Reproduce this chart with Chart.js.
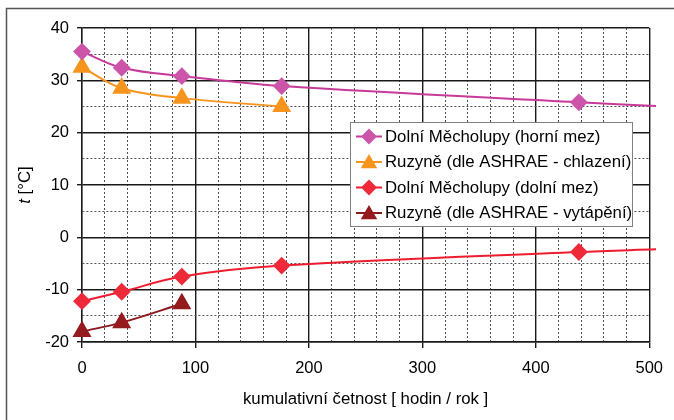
<!DOCTYPE html>
<html>
<head>
<meta charset="utf-8">
<script src="https://cdn.jsdelivr.net/npm/chart.js@4.4.0/dist/chart.umd.min.js"></script>
<style>
  html, body { margin: 0; padding: 0; background: #fff; }
  #wrap { width: 674px; height: 420px; position: relative; }
</style>
</head>
<body>
<div id="wrap"><canvas id="chart" width="674" height="420"></canvas></div>
<script>
// ================= DATA =================
const hoursMecholupy = [0, 35, 88, 176, 438, 506];
const upperMecholupy = [35.5, 32.4, 30.8, 28.9, 25.8, 25.1];
const lowerMecholupy = [-12.2, -10.4, -7.5, -5.4, -2.8, -2.3];
const hoursRuzyneCool = [0, 35, 88, 176];
const coolingRuzyne = [32.5, 28.5, 26.6, 25.0];
const hoursRuzyneHeat = [0, 35, 88];
const heatingRuzyne = [-18.0, -16.3, -12.7];

const seriesNames = [
  "Dolní Měcholupy (horní mez)",
  "Ruzyně (dle ASHRAE - chlazení)",
  "Dolní Měcholupy (dolní mez)",
  "Ruzyně (dle ASHRAE - vytápění)"
];

const FONT = "'Liberation Sans', Arial, sans-serif";
const TEXT_SIZE = 16.8;
const TICK_SIZE = 16.5;

function toPoints(xs, ys) {
  return xs.map((x, i) => ({ x: x, y: ys[i] }));
}

// marker on every point except the extra end point past 500
function markerSizes(xs, r) {
  return xs.map(x => (x > 500 ? 0 : r));
}

// ================= PLUGINS =================
const framePlugin = {
  id: "frame",
  beforeDraw(chart) {
    const ctx = chart.ctx;
    ctx.save();
    ctx.strokeStyle = "#555";
    ctx.lineWidth = 1.5;
    ctx.beginPath();
    ctx.moveTo(6.5, 420);
    ctx.lineTo(6.5, 8.5);
    ctx.lineTo(674, 8.5);
    ctx.stroke();
    ctx.restore();
  }
};

const yTitlePlugin = {
  id: "yTitle",
  afterDraw(chart) {
    const ctx = chart.ctx;
    const area = chart.chartArea;
    ctx.save();
    ctx.translate(25, (area.top + area.bottom) / 2);
    ctx.rotate(-Math.PI / 2);
    ctx.fillStyle = "#000";
    ctx.textBaseline = "middle";
    const italic = "italic " + TEXT_SIZE + "px " + FONT;
    const normal = TEXT_SIZE + "px " + FONT;
    ctx.font = italic;
    const w1 = ctx.measureText("t").width;
    ctx.font = normal;
    const w2 = ctx.measureText(" [°C]").width;
    let x = -(w1 + w2) / 2;
    ctx.font = italic;
    ctx.fillText("t", x, 0);
    ctx.font = normal;
    ctx.fillText(" [°C]", x + w1, 0);
    ctx.restore();
  }
};

const legendBoxPlugin = {
  id: "legendBox",
  afterDraw(chart) {
    const ctx = chart.ctx;
    const box = { left: 350.5, top: 122.5, width: 282, height: 104 };
    ctx.save();
    ctx.fillStyle = "#fff";
    ctx.fillRect(box.left, box.top, box.width, box.height);
    ctx.strokeStyle = "#808080";
    ctx.lineWidth = 1;
    ctx.strokeRect(box.left, box.top, box.width, box.height);
    ctx.font = TEXT_SIZE + "px " + FONT;
    ctx.textBaseline = "middle";
    chart.data.datasets.forEach((ds, i) => {
      const y = box.top + 14 + i * 25.5;
      ctx.strokeStyle = ds.borderColor;
      ctx.lineWidth = 2;
      ctx.beginPath();
      ctx.moveTo(356, y);
      ctx.lineTo(382, y);
      ctx.stroke();
      ctx.fillStyle = ds.pointBackgroundColor;
      ctx.strokeStyle = ds.pointBackgroundColor;
      Chart.helpers.drawPoint(ctx, {
        pointStyle: ds.pointStyle,
        radius: ds.pointStyle === "triangle" ? 7.5 : 6.5,
        rotation: 0,
        borderWidth: 1
      }, 369, ds.pointStyle === "triangle" ? y + 1.5 : y);
      ctx.fillStyle = "#000";
      ctx.fillText(ds.label, 385, y + 0.5);
    });
    ctx.restore();
  }
};

// ================= CHART =================
function makeSet(label, xs, ys, line, fill, style, r) {
  return {
    label: label,
    data: toPoints(xs, ys),
    borderColor: line,
    backgroundColor: fill,
    pointBackgroundColor: fill,
    pointBorderColor: fill,
    pointStyle: style,
    pointRadius: markerSizes(xs, r),
    pointHoverRadius: markerSizes(xs, r),
    borderWidth: 2,
    tension: 0.35,
    clip: false
  };
}

const isMajor = ctx => ctx.tick && ctx.tick.value % ctx.scale.options.majorStep === 0;
const gridColor = ctx => (isMajor(ctx) ? "#1a1a1a" : "#505050");
const gridWidth = ctx => (isMajor(ctx) ? 1.4 : 1);
const gridDash = ctx => (ctx.tick && !isMajor(ctx) ? [2, 2] : []);
const tickCol = ctx => (isMajor(ctx) ? "#1a1a1a" : "rgba(0,0,0,0)");

new Chart(document.getElementById("chart"), {
  type: "line",
  data: {
    datasets: [
      makeSet(seriesNames[0], hoursMecholupy, upperMecholupy, "#C63A9A", "#CC55AA", "rectRot", 7.5),
      makeSet(seriesNames[1], hoursRuzyneCool, coolingRuzyne, "#F7941E", "#F7941E", "triangle", 9),
      makeSet(seriesNames[2], hoursMecholupy, lowerMecholupy, "#EE1C2E", "#EE2A3A", "rectRot", 7.5),
      makeSet(seriesNames[3], hoursRuzyneHeat, heatingRuzyne, "#8B1A1E", "#951B1E", "triangle", 9)
    ]
  },
  options: {
    responsive: false,
    animation: false,
    events: [],
    layout: { padding: { left: 0, top: 28, right: 24, bottom: 0 } },
    plugins: {
      legend: { display: false },
      tooltip: { enabled: false }
    },
    scales: {
      x: {
        type: "linear",
        min: 0,
        max: 500,
        majorStep: 100,
        afterFit(scale) { scale.height = 78; },
        ticks: {
          stepSize: 20,
          autoSkip: false,
          maxRotation: 0,
          padding: 11,
          color: "#000",
          font: { family: FONT, size: TICK_SIZE },
          callback: v => (v % 100 === 0 ? v : "")
        },
        grid: {
          color: gridColor,
          lineWidth: gridWidth,
          borderDash: gridDash,
          tickColor: tickCol,
          tickLength: 6,
          tickWidth: 1.4
        },
        border: { display: true, color: "#1a1a1a", width: 1.4, dash: gridDash },
        title: {
          display: true,
          text: "kumulativní četnost [ hodin / rok ]",
          color: "#000",
          font: { family: FONT, size: TEXT_SIZE },
          padding: { top: 0, bottom: 11 }
        }
      },
      y: {
        min: -20,
        max: 40,
        majorStep: 10,
        afterFit(scale) { scale.width = 82; },
        ticks: {
          stepSize: 5,
          autoSkip: false,
          padding: 8,
          color: "#000",
          font: { family: FONT, size: TICK_SIZE },
          callback: v => (v % 10 === 0 ? v : "")
        },
        grid: {
          color: gridColor,
          lineWidth: gridWidth,
          borderDash: gridDash,
          tickColor: tickCol,
          tickLength: 5,
          tickWidth: 1.4
        },
        border: { display: true, color: "#1a1a1a", width: 1.4, dash: gridDash }
      }
    }
  },
  plugins: [framePlugin, yTitlePlugin, legendBoxPlugin]
});
</script>
</body>
</html>
